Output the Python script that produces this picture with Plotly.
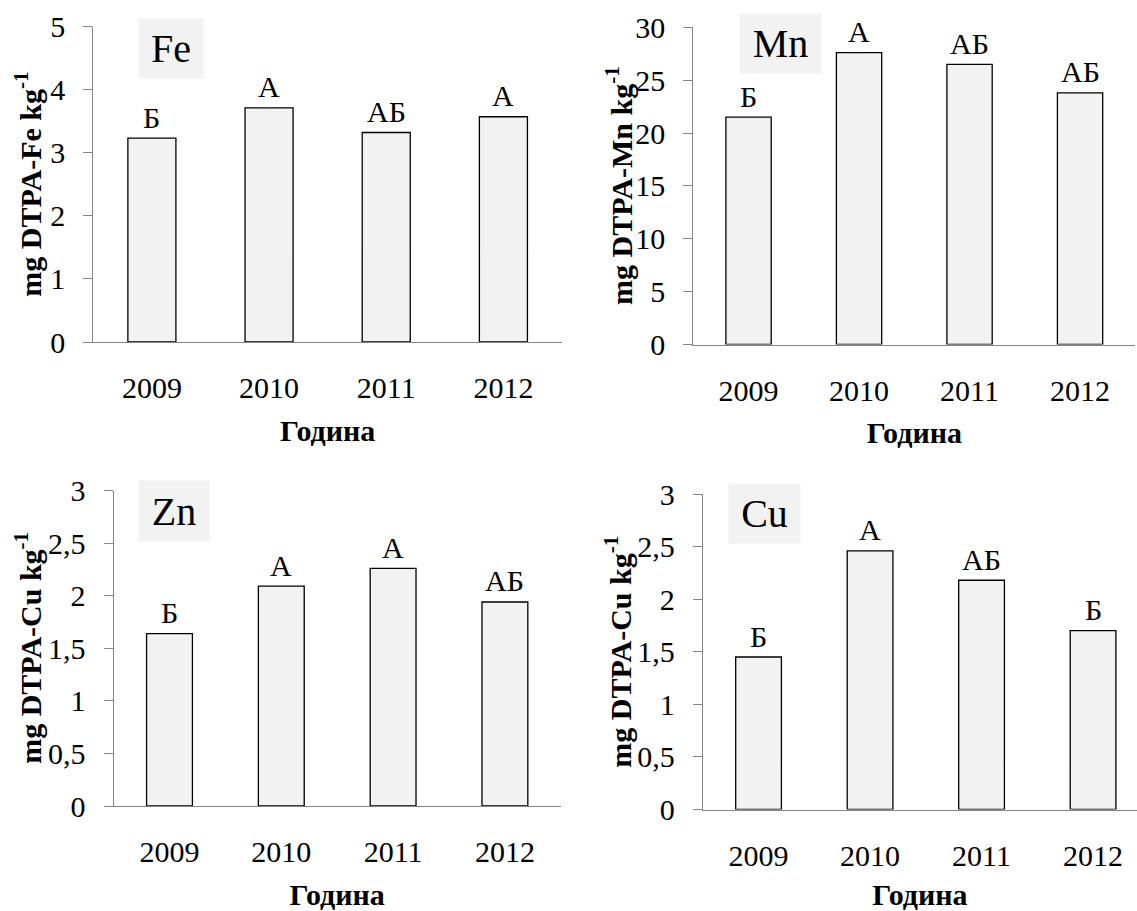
import plotly.graph_objects as go

# ---------------- data ----------------
years = ["2009", "2010", "2011", "2012"]
fe_values = [3.23, 3.71, 3.32, 3.57]
mn_values = [21.5, 27.6, 26.5, 23.8]
zn_values = [1.64, 2.09, 2.26, 1.94]
cu_values = [1.45, 2.46, 2.18, 1.70]
fe_letters = ["Б", "А", "АБ", "А"]
mn_letters = ["Б", "А", "АБ", "АБ"]
zn_letters = ["Б", "А", "А", "АБ"]
cu_letters = ["Б", "А", "АБ", "Б"]
elements = ["Fe", "Mn", "Zn", "Cu"]
y_titles = ["mg DTPA-Fe kg<sup>-1</sup>", "mg DTPA-Mn kg<sup>-1</sup>",
            "mg DTPA-Cu kg<sup>-1</sup>", "mg DTPA-Cu kg<sup>-1</sup>"]
x_title = "Година"
y_ranges = [[0, 5], [0, 30], [0, 3], [0, 3]]
y_dticks = [1, 5, 0.5, 0.5]

values = [fe_values, mn_values, zn_values, cu_values]
letters = [fe_letters, mn_letters, zn_letters, cu_letters]

# ---------------- layout geometry (pixels) ----------------
W, H = 1137, 911
FONT = "Liberation Serif"
AXIS_COLOR = "#868686"

panels = [
    dict(x0=93.3, x1=562.0, ytop=26.5, ybot=342.0, xr=[-0.5, 3.5],
         title_x=28.5, box=(171, 48, 64, 59)),
    dict(x0=693.3, x1=1135.3, ytop=27.3, ybot=344.5, xr=[-0.5, 3.5],
         title_x=619, box=(780.5, 43, 81, 59)),
    dict(x0=113.6, x1=560.8, ytop=490.5, ybot=806.0, xr=[-0.5, 3.5],
         title_x=28.6, box=(174, 510.7, 70, 60)),
    dict(x0=702.8, x1=1137.0, ytop=494.0, ybot=809.5, xr=[-0.5, 3.394],
         title_x=618, box=(764, 513.7, 71, 59)),
]

fig = go.Figure()
annotations = []
layout_axes = {}

for i, p in enumerate(panels):
    n = i + 1
    xa = "x" if n == 1 else f"x{n}"
    ya = "y" if n == 1 else f"y{n}"
    xkey = "xaxis" if n == 1 else f"xaxis{n}"
    ykey = "yaxis" if n == 1 else f"yaxis{n}"

    fig.add_trace(go.Bar(
        x=years, y=values[i], xaxis=xa, yaxis=ya,
        width=0.41,
        marker=dict(color="#f2f2f2", line=dict(color="#000000", width=1.3)),
        showlegend=False, hoverinfo="x+y",
    ))

    layout_axes[xkey] = dict(
        domain=[p["x0"] / W, p["x1"] / W],
        anchor=ya, type="category", range=p["xr"], automargin=False,
        showline=True, linecolor=AXIS_COLOR, linewidth=1,
        ticks="", showgrid=False, zeroline=False,
        tickfont=dict(size=30, color="#000000", family=FONT),
        ticklabelstandoff=19,
        title=dict(text=x_title, standoff=16,
                   font=dict(size=30, color="#000000", family=FONT, weight="bold")),
    )
    layout_axes[ykey] = dict(
        domain=[1 - p["ybot"] / H, 1 - p["ytop"] / H],
        anchor=xa, range=y_ranges[i], dtick=y_dticks[i], tick0=0, automargin=False,
        showline=True, linecolor=AXIS_COLOR, linewidth=1,
        ticks="outside", ticklen=9, tickcolor=AXIS_COLOR, tickwidth=1,
        showgrid=False, zeroline=False,
        tickfont=dict(size=30, color="#000000", family=FONT),
        ticklabelstandoff=12,
    )

    # significance letters above bars (x = category index on the category axis)
    for j, (v, lt) in enumerate(zip(values[i], letters[i])):
        annotations.append(dict(
            x=j, y=v, xref=xa, yref=ya, text=lt, showarrow=False,
            xanchor="center", yanchor="middle", yshift=21,
            font=dict(size=30, color="#000000", family=FONT),
        ))

    # y axis title
    annotations.append(dict(
        x=p["title_x"] / W, y=1 - (p["ytop"] + p["ybot"]) / 2 / H,
        xref="paper", yref="paper", text=y_titles[i], textangle=-90,
        showarrow=False, xanchor="center", yanchor="middle",
        font=dict(size=30, color="#000000", family=FONT, weight="bold"),
    ))

    # element label box
    cx, cy, bw, bh = p["box"]
    annotations.append(dict(
        x=cx / W, y=1 - cy / H, xref="paper", yref="paper",
        text=elements[i], showarrow=False, xanchor="center", yanchor="middle",
        width=bw, height=bh, bgcolor="#f2f2f2", borderpad=0,
        font=dict(size=40, color="#000000", family=FONT),
    ))

fig.update_layout(
    template="none",
    width=W, height=H,
    margin=dict(l=0, r=0, t=0, b=0, autoexpand=False),
    paper_bgcolor="white", plot_bgcolor="white",
    font=dict(family=FONT, color="#000000"),
    separators=", ",
    annotations=annotations,
    **layout_axes,
)

fig.write_html("out.html", config={"displayModeBar": False},
               post_script="document.body.style.margin='0';")
